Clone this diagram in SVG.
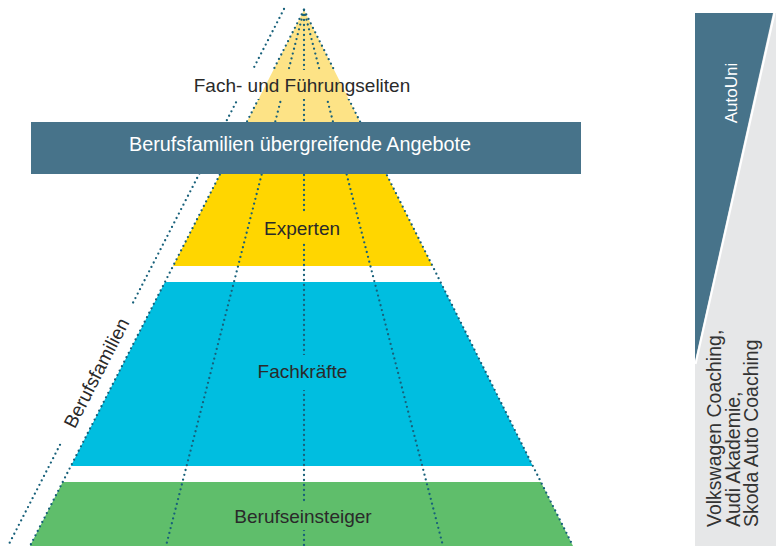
<svg xmlns="http://www.w3.org/2000/svg" width="776" height="546" viewBox="0 0 776 546">
<style>
  .lbl { font-family: "Liberation Sans", Arial, sans-serif; font-size: 19px; fill: #2a2a2a; }
  .wht { fill: #ffffff; }
  .pnl { font-family: "Liberation Sans", Arial, sans-serif; font-size: 19px; fill: #333333; }
  .dot { fill: none; stroke: #17607a; stroke-width: 2.3; stroke-linecap: round; stroke-dasharray: 0 5; }
</style>
<defs>
  <mask id="gaps" maskUnits="userSpaceOnUse" x="0" y="0" width="776" height="546">
    <rect x="0" y="0" width="776" height="546" fill="#fff"/>
    <rect x="188" y="70" width="230" height="29" fill="#000"/>
    <rect x="260" y="213" width="85" height="30" fill="#000"/>
    <rect x="253" y="355" width="100" height="35" fill="#000"/>
    <rect x="229" y="502" width="148" height="28" fill="#000"/>
    <rect x="-77" y="-10" width="154" height="20" fill="#000" transform="translate(96.5,373) rotate(-62.8)"/>
  </mask>
</defs>
<rect width="776" height="546" fill="#ffffff"/>

<g id="fuehrungseliten">
  <polygon points="304,10 242.7,130 364.2,130" fill="#fde386"/>
</g>
<g id="experten">
  <polygon points="220.2,174 386.3,174 432.5,266 173.1,266" fill="#ffd600"/>
  <text class="lbl" x="302" y="235" text-anchor="middle">Experten</text>
</g>
<g id="fachkraefte">
  <polygon points="165,282 440.5,282 532.8,466 70.9,466" fill="#00bee0"/>
  <text class="lbl" x="302.5" y="378" text-anchor="middle">Fachkräfte</text>
</g>
<g id="berufseinsteiger">
  <polygon points="62.7,482 540.9,482 573,546 30,546" fill="#5fbe6b"/>
  <text class="lbl" x="303" y="523" text-anchor="middle">Berufseinsteiger</text>
</g>

<g id="connectors" mask="url(#gaps)">
  <line class="dot" x1="284" y1="9" x2="8" y2="546"/>
  <line class="dot" x1="304" y1="10" x2="30" y2="546"/>
  <line class="dot" x1="304" y1="10" x2="166" y2="546"/>
  <line class="dot" x1="304" y1="10" x2="304" y2="546"/>
  <line class="dot" x1="304" y1="10" x2="443" y2="546"/>
  <line class="dot" x1="304" y1="10" x2="573" y2="546"/>
</g>

<g id="fuehrungseliten-label">
  <text class="lbl" x="302" y="91.5" text-anchor="middle">Fach- und Führungseliten</text>
</g>

<g id="berufsfamilien-label">
  <text class="lbl" transform="translate(96.5,373) rotate(-62.8)" x="0" y="6.5" text-anchor="middle">Berufsfamilien</text>
</g>

<g id="angebote">
  <rect x="31" y="122" width="550" height="52" fill="#47738a"/>
  <text class="lbl wht" style="font-size:19.8px" x="300" y="151" text-anchor="middle">Berufsfamilien übergreifende Angebote</text>
</g>

<g id="panel">
  <rect x="695" y="13" width="81" height="533" fill="#e6e7e8"/>
  <polygon points="695,13 773,13 695,361" fill="#47738a"/>
  <line x1="774.6" y1="13" x2="695.6" y2="364" stroke="#ffffff" stroke-width="2"/>
</g>
<g id="autouni">
  <text class="lbl wht" style="font-size:17px" transform="translate(737,93) rotate(-90)" text-anchor="middle">AutoUni</text>
</g>
<g id="coaching">
  <text class="pnl" style="font-size:19.5px" transform="translate(721,527) rotate(-90)">Volkswagen Coaching,</text>
  <text class="pnl" style="font-size:19.5px" transform="translate(739.5,527) rotate(-90)">Audi Akademie,</text>
  <text class="pnl" style="font-size:19.5px" transform="translate(758,527) rotate(-90)">Skoda Auto Coaching</text>
</g>
</svg>
